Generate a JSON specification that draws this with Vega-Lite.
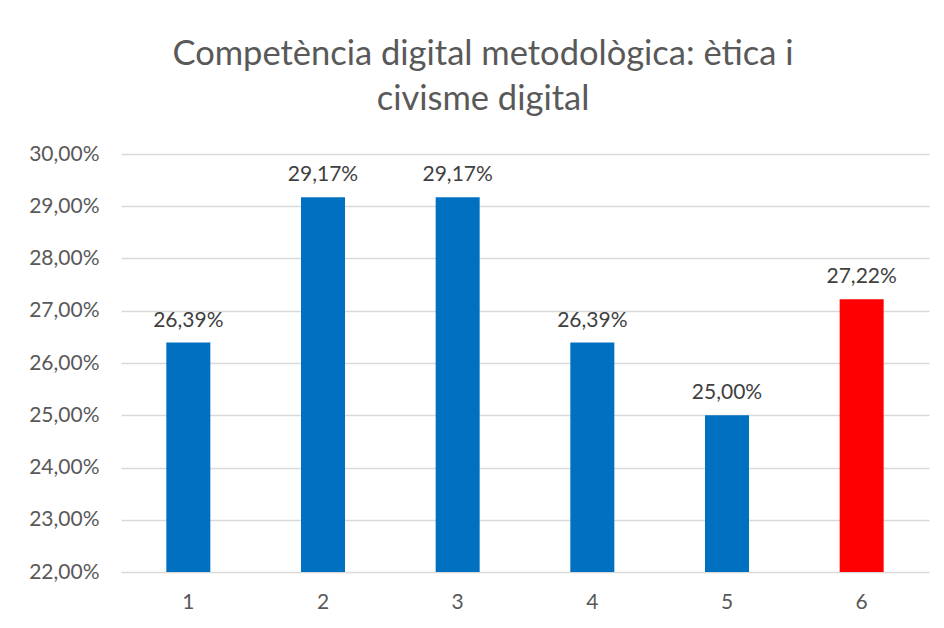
{
  "$schema": "https://vega.github.io/schema/vega-lite/v6.json",
  "autosize": {"type": "none"},
  "width": 808,
  "height": 418,
  "padding": {"left": 121, "top": 154, "right": 15, "bottom": 56},
  "background": "white",
  "title": {
    "text": ["Competència digital metodològica: ètica i", "civisme digital"],
    "anchor": "middle",
    "dx": -42,
    "offset": 26,
    "font": "Lato",
    "fontSize": 34.5,
    "fontWeight": "normal",
    "color": "#595959",
    "lineHeight": 45
  },
  "data": {
    "values": [
      {"cat": "1", "value": 0.2639},
      {"cat": "2", "value": 0.2917},
      {"cat": "3", "value": 0.2917},
      {"cat": "4", "value": 0.2639},
      {"cat": "5", "value": 0.25},
      {"cat": "6", "value": 0.2722}
    ]
  },
  "encoding": {
    "x": {
      "field": "cat",
      "type": "ordinal",
      "scale": {"paddingInner": 0, "paddingOuter": 0},
      "axis": {
        "title": null,
        "labelAngle": 0,
        "ticks": false,
        "domain": false,
        "labelPadding": 19,
        "labelFont": "Lato",
        "labelFontSize": 21,
        "labelColor": "#595959"
      }
    },
    "y": {
      "field": "value",
      "type": "quantitative",
      "scale": {"domain": [0.22, 0.30], "nice": false, "zero": false},
      "axis": {
        "title": null,
        "format": ".2%",
        "values": [0.22, 0.23, 0.24, 0.25, 0.26, 0.27, 0.28, 0.29, 0.30],
        "labelOverlap": false,
        "ticks": false,
        "domain": false,
        "grid": true,
        "gridColor": "#d9d9d9",
        "gridWidth": 1.3,
        "labelPadding": 22,
        "labelFont": "Lato",
        "labelFontSize": 21,
        "labelColor": "#595959"
      }
    }
  },
  "layer": [
    {
      "mark": {"type": "bar", "size": 44, "clip": true},
      "encoding": {
        "color": {
          "condition": {"test": "datum.cat === '6'", "value": "#FF0000"},
          "value": "#0070C0"
        }
      }
    },
    {
      "mark": {
        "type": "text",
        "baseline": "alphabetic",
        "dy": -16,
        "font": "Lato",
        "fontSize": 21,
        "color": "#404040"
      },
      "encoding": {
        "text": {"field": "value", "type": "quantitative", "format": ".2%"}
      }
    }
  ],
  "config": {
    "view": {"stroke": null},
    "locale": {
      "number": {
        "decimal": ",",
        "thousands": ".",
        "grouping": [3],
        "currency": ["", " €"]
      }
    }
  }
}
